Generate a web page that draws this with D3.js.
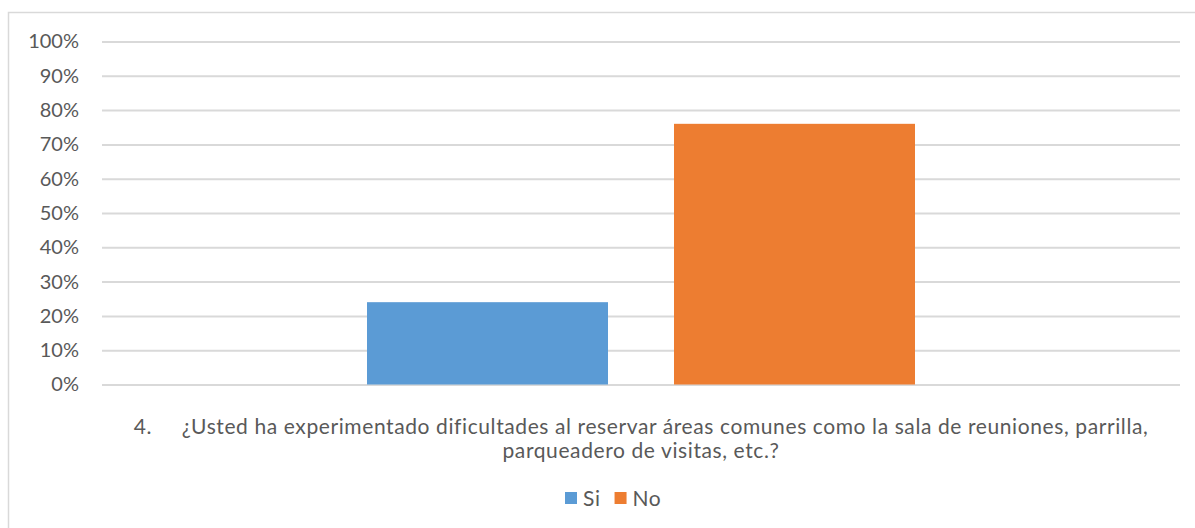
<!DOCTYPE html>
<html>
<head>
<meta charset="utf-8">
<script src="https://cdn.jsdelivr.net/npm/d3@7"></script>
<style>
  html, body { margin: 0; padding: 0; background: #fff; }
  svg { display: block; }
  text { font-family: Lato, "Open Sans", sans-serif; fill: #595959; }
</style>
</head>
<body>
<svg id="chart" width="1195" height="528"></svg>
<script>
// Survey question 4: share of answers per option
const categories = ["4.\u00a0\u00a0\u00a0\u00a0¿Usted ha experimentado dificultades al reservar áreas comunes como la sala de reuniones, parrilla, parqueadero de visitas, etc.?"];
const categoryLines = [
  "4.\u00a0\u00a0\u00a0\u00a0\u00a0¿Usted ha experimentado dificultades al reservar áreas comunes como la sala de reuniones, parrilla,",
  "parqueadero de visitas, etc.?"
];
const seriesNames = ["Si", "No"];
const seriesValues = [0.24, 0.76];
const seriesColors = ["#5b9bd5", "#ed7d31"];
const yTicks = [0, 0.1, 0.2, 0.3, 0.4, 0.5, 0.6, 0.7, 0.8, 0.9, 1.0];

const svg = d3.select("#chart");
const W = 1195, H = 528;
const margin = { left: 102, right: 15, top: 41.5, bottom: 143.5 };
const plotW = W - margin.left - margin.right;
const plotH = H - margin.top - margin.bottom;
const tickFont = 20;
const labelFont = 21;

// chart frame
svg.append("rect")
  .attr("x", 8.5).attr("y", 12.5)
  .attr("width", W + 10).attr("height", H + 10)
  .attr("fill", "#fff").attr("stroke", "#d9d9d9").attr("stroke-width", 1.5);

const g = svg.append("g").attr("transform", `translate(${margin.left},${margin.top})`);

const y = d3.scaleLinear().domain([0, 1]).range([plotH, 0]);
const x0 = d3.scaleBand().domain(categories).range([0, plotW]).paddingInner(0).paddingOuter(0.4836);
const x1 = d3.scaleBand().domain(seriesNames).range([0, x0.bandwidth()]).paddingInner(0.215);

// gridlines and percent labels
const yAxis = d3.axisLeft(y).tickValues(yTicks).tickSize(-plotW).tickFormat(d3.format(".0%"));
const ya = g.append("g").call(yAxis);
ya.select(".domain").remove();
ya.selectAll(".tick line").attr("stroke", "#d9d9d9").attr("stroke-width", 2);
ya.selectAll(".tick text")
  .attr("x", -23)
  .style("font-family", "Lato, 'Open Sans', sans-serif")
  .style("font-size", tickFont + "px")
  .style("fill", "#595959");

// bars
const grp = g.selectAll(".cat").data(categories).enter().append("g")
  .attr("transform", d => `translate(${x0(d)},0)`);
grp.selectAll("rect").data(seriesNames.map((s, i) => ({ s, v: seriesValues[i], c: seriesColors[i] })))
  .enter().append("rect")
  .attr("x", d => x1(d.s))
  .attr("y", d => y(d.v))
  .attr("width", x1.bandwidth())
  .attr("height", d => plotH - y(d.v))
  .attr("fill", d => d.c);

// category label (two lines)
const lab = g.append("text")
  .attr("text-anchor", "middle")
  .style("font-size", labelFont + "px")
  .style("letter-spacing", "0.6px");
categoryLines.forEach((line, i) => {
  lab.append("tspan")
    .attr("x", plotW / 2)
    .attr("y", plotH + 49 + i * 24)
    .text(line);
});

// legend
const legend = svg.append("g").attr("transform", "translate(565,498)");
let lx = 0;
seriesNames.forEach((s, i) => {
  const item = legend.append("g").attr("transform", `translate(${lx},0)`);
  item.append("rect").attr("x", 0).attr("y", -6).attr("width", 12).attr("height", 12).attr("fill", seriesColors[i]);
  const t = item.append("text").attr("x", 18).attr("y", 8)
    .style("font-size", labelFont + "px").style("letter-spacing", "0.6px").text(s);
  lx += 18 + t.node().getComputedTextLength() + 14;
});
</script>
</body>
</html>
